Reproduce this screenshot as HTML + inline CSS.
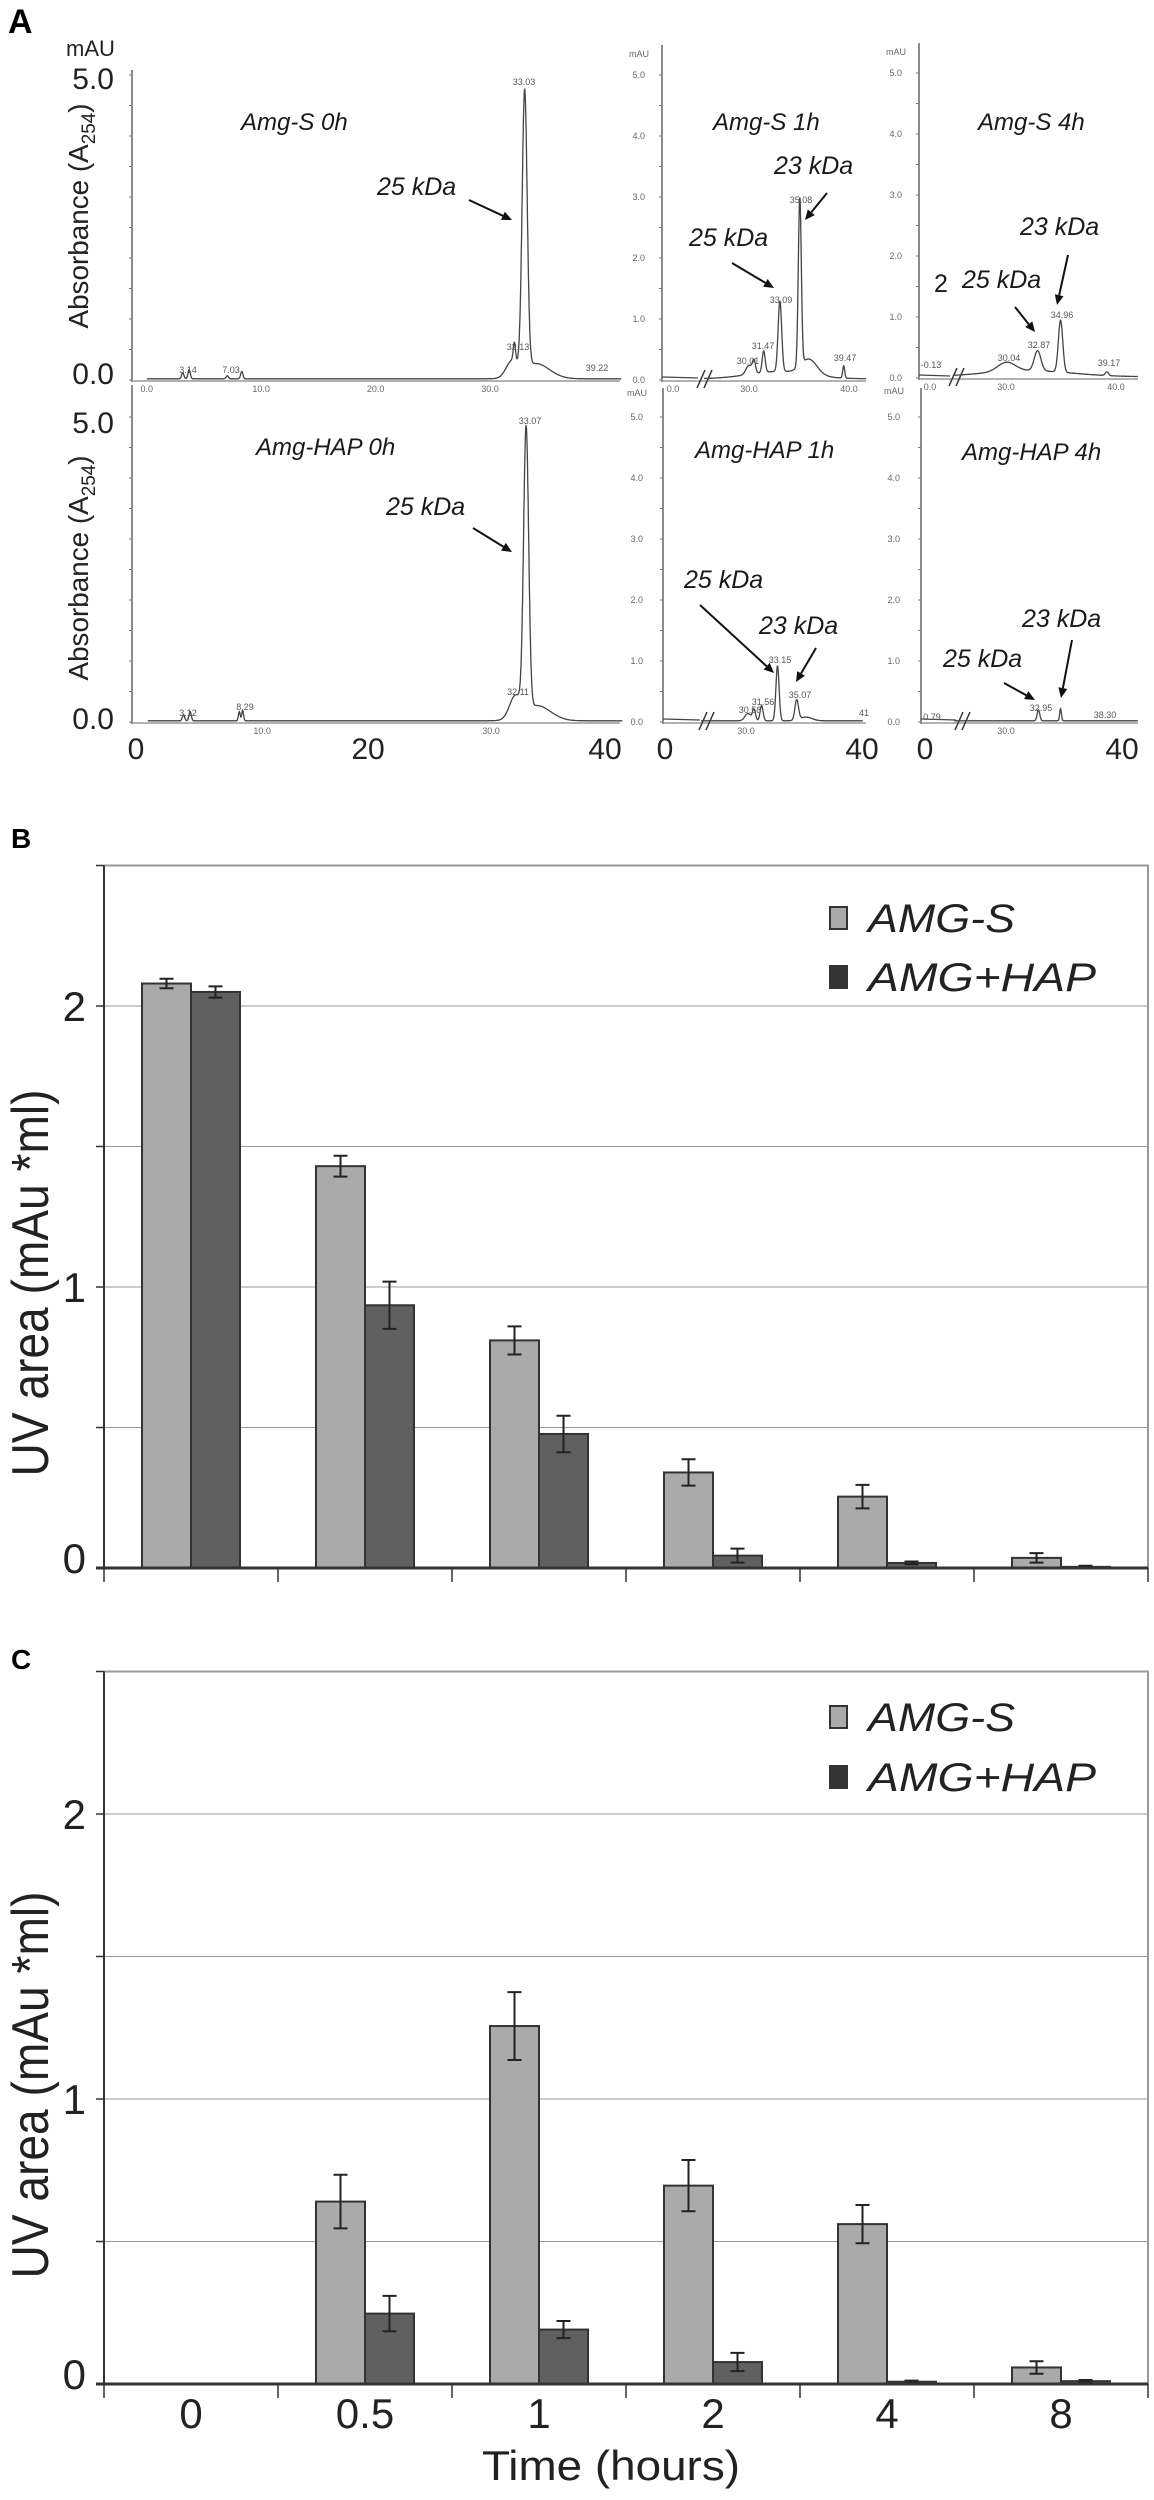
<!DOCTYPE html>
<html><head><meta charset="utf-8"><style>
html,body{margin:0;padding:0;background:#fff;}
svg{display:block;font-family:"Liberation Sans",Arial,sans-serif;}
</style></head><body>
<svg id="fig" width="1154" height="2500" viewBox="0 0 1154 2500" xmlns="http://www.w3.org/2000/svg">
<g id="panelA">
<text x="8" y="33" font-size="34" font-weight="bold">A</text>
<text x="66" y="56" font-size="22" fill="#222">mAU</text>
<text x="114" y="89" font-size="30" text-anchor="end" fill="#222">5.0</text>
<text x="114" y="384" font-size="30" text-anchor="end" fill="#222">0.0</text>
<text x="114" y="433" font-size="30" text-anchor="end" fill="#222">5.0</text>
<text x="114" y="729" font-size="30" text-anchor="end" fill="#222">0.0</text>
<text transform="translate(88,216) rotate(-90)" font-size="28" text-anchor="middle" fill="#222" textLength="225" lengthAdjust="spacingAndGlyphs">Absorbance (A<tspan font-size="19" dy="7">254</tspan><tspan dy="-7">)</tspan></text>
<text transform="translate(88,568) rotate(-90)" font-size="28" text-anchor="middle" fill="#222" textLength="225" lengthAdjust="spacingAndGlyphs">Absorbance (A<tspan font-size="19" dy="7">254</tspan><tspan dy="-7">)</tspan></text>
<g font-size="30" fill="#222" text-anchor="middle">
<text x="136" y="759">0</text>
<text x="368" y="759">20</text>
<text x="605" y="759">40</text>
<text x="665" y="759">0</text>
<text x="862" y="759">40</text>
<text x="925" y="759">0</text>
<text x="1122" y="759">40</text>
</g>
<g font-size="24" font-style="italic" fill="#1a1a1a">
<text x="241" y="130">Amg-S 0h</text>
<text x="377" y="195" font-size="25">25 kDa</text>
<text x="256" y="455">Amg-HAP 0h</text>
<text x="386" y="515" font-size="25">25 kDa</text>
<text x="713" y="130">Amg-S 1h</text>
<text x="774" y="174" font-size="25">23 kDa</text>
<text x="689" y="246" font-size="25">25 kDa</text>
<text x="978" y="130">Amg-S 4h</text>
<text x="1020" y="235" font-size="25">23 kDa</text>
<text x="934" y="292" font-size="25" font-style="normal">2</text>
<text x="962" y="288" font-size="25">25 kDa</text>
<text x="695" y="458">Amg-HAP 1h</text>
<text x="684" y="588" font-size="25">25 kDa</text>
<text x="759" y="634" font-size="25">23 kDa</text>
<text x="962" y="460">Amg-HAP 4h</text>
<text x="1022" y="627" font-size="25">23 kDa</text>
<text x="943" y="667" font-size="25">25 kDa</text>
</g>
</g>
<g id="panelB">
<text x="11" y="848" font-size="28" font-weight="bold">B</text>
</g>
<g id="panelC">
<text x="11" y="1669" font-size="28" font-weight="bold">C</text>
<text x="611" y="2480" font-size="42" text-anchor="middle" fill="#222" textLength="258" lengthAdjust="spacingAndGlyphs">Time (hours)</text>
</g>
</svg>
<script>
// ---------- Bar chart data ----------
const categories = ['0','0.5','1','2','4','8'];
const bAmgS = [2.08, 1.43, 0.81, 0.34, 0.254, 0.036];
const bAmgSErr = [0.017, 0.037, 0.05, 0.047, 0.042, 0.017];
const bAmgHap = [2.05, 0.935, 0.477, 0.044, 0.018, 0.004];
const bAmgHapErr = [0.02, 0.084, 0.065, 0.025, 0.005, 0.004];
const cAmgS = [0, 0.64, 1.256, 0.696, 0.561, 0.058];
const cAmgSErr = [0, 0.094, 0.119, 0.09, 0.067, 0.022];
const cAmgHap = [0, 0.247, 0.191, 0.077, 0.008, 0.01];
const cAmgHapErr = [0, 0.062, 0.03, 0.032, 0.004, 0.004];
const yTickValues = [0, 0.5, 1, 1.5, 2, 2.5];
const yTickLabels = ['0', '', '1', '', '2', ''];
const legendLabels = ['AMG-S', 'AMG+HAP'];

// ---------- Chromatogram data (retention time, height in mAU, width) ----------
const s0hTimes = [3.14, 3.7, 7.03, 8.3, 31.9, 32.13, 33.03, 34.0];
const s0hHeights = [0.1, 0.15, 0.05, 0.12, 0.25, 0.3, 4.55, 0.25];
const s0hWidths = [0.1, 0.1, 0.1, 0.1, 0.5, 0.1, 0.22, 1.2];
const s1hTimes = [30.0, 30.5, 31.47, 33.09, 35.08, 36.0, 39.47, 33.0];
const s1hHeights = [0.15, 0.2, 0.35, 1.15, 2.75, 0.25, 0.2, 0.12];
const s1hWidths = [0.3, 0.15, 0.15, 0.18, 0.15, 0.8, 0.1, 3.0];
const s4hTimes = [30.04, 32.87, 34.96, 39.17, 32.0];
const s4hHeights = [0.15, 0.33, 0.85, 0.06, 0.1];
const s4hWidths = [0.8, 0.3, 0.2, 0.15, 4.0];
const h0hTimes = [3.12, 3.7, 8.0, 8.29, 32.11, 33.07, 34.0];
const h0hHeights = [0.1, 0.15, 0.15, 0.17, 0.35, 4.6, 0.25];
const h0hWidths = [0.1, 0.1, 0.08, 0.08, 0.5, 0.22, 1.2];
const h1hTimes = [30.2, 30.8, 31.56, 33.15, 35.07, 36.0];
const h1hHeights = [0.12, 0.18, 0.25, 0.9, 0.33, 0.06];
const h1hWidths = [0.3, 0.15, 0.15, 0.16, 0.18, 0.6];
const h4hTimes = [32.95, 34.96];
const h4hHeights = [0.18, 0.2];
const h4hWidths = [0.12, 0.08];

const NS = 'http://www.w3.org/2000/svg';
const fig = document.getElementById('fig');
function mk(tag, attrs, parent) {
  const el = document.createElementNS(NS, tag);
  for (const k in attrs) el.setAttribute(k, attrs[k]);
  (parent || fig).appendChild(el);
  return el;
}

// ---------- Chromatogram panels ----------
const panelA = document.getElementById('panelA');
function chromPanel(name, cfg, times, heights, widths, peakLabels) {
  const g = mk('g', {}, panelA);
  
  
  const yv = v => cfg.base - v * cfg.unit;
  const xt = t => cfg.x30 + (t - 30) * cfg.pxPerMin;
  // y axis
  const ax = mk('line', {x1: cfg.axisX, y1: cfg.top, x2: cfg.axisX, y2: cfg.base + 2, stroke: '#666', 'stroke-width': 1.5}, g);
  
  
  for (let v = 0; v <= 5; v += 0.5) {
    const tk = mk('line', {x1: cfg.axisX - 3, y1: yv(v), x2: cfg.axisX, y2: yv(v), stroke: '#777', 'stroke-width': 1}, g);
    
    
    if (cfg.tickLabelX && Number.isInteger(v)) {
      const tl = mk('text', {x: cfg.tickLabelX, y: yv(v) + 3, 'font-size': 9, fill: '#666', 'text-anchor': 'end'}, g);
      tl.textContent = v.toFixed(1);
      
      
    }
  }
  if (cfg.mauY) {
    const m = mk('text', {x: cfg.tickLabelX - 16, y: cfg.mauY, 'font-size': 9, fill: '#666'}, g);
    m.textContent = 'mAU';
    
    
  }
  // x axis
  const xa = mk('line', {x1: cfg.axisX, y1: cfg.base + 1, x2: cfg.right, y2: cfg.base + 1, stroke: '#999', 'stroke-width': 1.5}, g);
  
  
  cfg.xTicks.forEach(tv => {
    const tx = cfg.breakX ? (tv === 0 ? cfg.axisX + 11 : xt(tv)) : xt(tv);
    const tl = mk('text', {x: tx, y: cfg.base + 12, 'font-size': 9, fill: '#666', 'text-anchor': 'middle'}, g);
    tl.textContent = tv.toFixed(1);
    
    
  });
  // trace
  let tStart = cfg.tStart;
  let d = '';
  if (cfg.breakX) {
    d = 'M' + cfg.axisX + ',' + (cfg.base - 3) + ' L' + (cfg.breakX - 8) + ',' + (cfg.base - 2) + ' ';
    const b1 = mk('line', {x1: cfg.breakX - 9, y1: cfg.base + 8, x2: cfg.breakX - 1, y2: cfg.base - 10, stroke: '#333', 'stroke-width': 1.5}, g);
    
    
    const b2 = mk('line', {x1: cfg.breakX - 2, y1: cfg.base + 8, x2: cfg.breakX + 6, y2: cfg.base - 10, stroke: '#333', 'stroke-width': 1.5}, g);
    
    
  }
  let first = true;
  for (let t = tStart; t <= cfg.tEnd; t += 0.02) {
    let v = 0.02;
    for (let i = 0; i < times.length; i++) {
      v += heights[i] * Math.exp(-0.5 * Math.pow((t - times[i]) / widths[i], 2));
    }
    d += (first && !cfg.breakX ? 'M' : (first ? 'M' : 'L')) + xt(t).toFixed(1) + ',' + yv(v).toFixed(1) + ' ';
    first = false;
  }
  const p = mk('path', {d: d, fill: 'none', stroke: '#444', 'stroke-width': 1.3}, g);
  
  
  peakLabels.forEach(pl => {
    const tl = mk('text', {x: pl[1], y: pl[2] + 3, 'font-size': 9, fill: '#555', 'text-anchor': 'middle'}, g);
    tl.textContent = pl[0];
    
    
  });
}

chromPanel('chromatogram-amg-s-0h', {axisX: 132, top: 70, base: 380, unit: 61, x30: 490, pxPerMin: 11.44, right: 620, tStart: 0, tEnd: 41.5, xTicks: [0, 10, 20, 30], tickLabelX: 0},
  s0hTimes, s0hHeights, s0hWidths, [['33.03', 524, 82], ['32.13', 518, 347], ['3.14', 188, 370], ['7.03', 231, 370], ['39.22', 597, 368]]);
chromPanel('chromatogram-amg-hap-0h', {axisX: 132, top: 385, base: 722, unit: 61, x30: 491, pxPerMin: 11.44, right: 620, tStart: 0, tEnd: 41.5, xTicks: [10, 30], tickLabelX: 0},
  h0hTimes, h0hHeights, h0hWidths, [['33.07', 530, 421], ['32.11', 518, 692], ['8.29', 245, 707], ['3.12', 188, 713]]);
chromPanel('chromatogram-amg-s-1h', {axisX: 662, top: 45, base: 380, unit: 61, x30: 749, pxPerMin: 10, right: 866, tStart: 25.5, tEnd: 41.7, xTicks: [0, 30, 40], breakX: 706, tickLabelX: 645, mauY: 57},
  s1hTimes, s1hHeights, s1hWidths, [['35.08', 801, 200], ['33.09', 781, 300], ['31.47', 763, 346], ['30.01', 748, 361], ['39.47', 845, 358]]);
chromPanel('chromatogram-amg-s-4h', {axisX: 919, top: 43, base: 378, unit: 61, x30: 1006, pxPerMin: 11, right: 1138, tStart: 25.3, tEnd: 42, xTicks: [0, 30, 40], breakX: 958, tickLabelX: 902, mauY: 55},
  s4hTimes, s4hHeights, s4hWidths, [['34.96', 1062, 315], ['32.87', 1039, 345], ['30.04', 1009, 358], ['39.17', 1109, 363], ['-0.13', 931, 365]]);
chromPanel('chromatogram-amg-hap-1h', {axisX: 663, top: 388, base: 722, unit: 61, x30: 746, pxPerMin: 10, right: 866, tStart: 25.5, tEnd: 41.7, xTicks: [30], breakX: 708, tickLabelX: 643, mauY: 396},
  h1hTimes, h1hHeights, h1hWidths, [['33.15', 780, 660], ['35.07', 800, 695], ['31.56', 763, 702], ['30.58', 750, 710], ['41', 864, 713]]);
chromPanel('chromatogram-amg-hap-4h', {axisX: 921, top: 388, base: 722, unit: 61, x30: 1006, pxPerMin: 11, right: 1138, tStart: 25.3, tEnd: 42, xTicks: [30], breakX: 964, tickLabelX: 900, mauY: 394},
  h4hTimes, h4hHeights, h4hWidths, [['32.95', 1041, 708], ['38.30', 1105, 715], ['0.79', 932, 717]]);

// arrows
const arrowList = [
  ['arrow-25kda-s0h', 469, 200, 512, 220], ['arrow-25kda-h0h', 473, 528, 512, 552],
  ['arrow-25kda-s1h', 732, 263, 774, 288], ['arrow-23kda-s1h', 827, 193, 805, 220],
  ['arrow-25kda-s4h', 1015, 307, 1035, 332], ['arrow-23kda-s4h', 1068, 255, 1057, 305],
  ['arrow-25kda-h1h', 700, 605, 774, 673], ['arrow-23kda-h1h', 816, 648, 796, 682],
  ['arrow-23kda-h4h', 1072, 640, 1061, 698], ['arrow-25kda-h4h', 1004, 683, 1035, 700]
];
arrowList.forEach(a => {
  const g = mk('g', {}, panelA);
  
  
  const ang = Math.atan2(a[4] - a[2], a[3] - a[1]);
  const hl = 10, hw = 4.5;
  const bx = a[3] - hl * Math.cos(ang), by = a[4] - hl * Math.sin(ang);
  mk('line', {x1: a[1], y1: a[2], x2: bx, y2: by, stroke: '#111', 'stroke-width': 2}, g);
  const pts = [a[3], a[4], bx - hw * Math.sin(ang), by + hw * Math.cos(ang), bx + hw * Math.sin(ang), by - hw * Math.cos(ang)];
  mk('polygon', {points: pts.map(v => v.toFixed(1)).join(' '), fill: '#111'}, g);
});

// ---------- Bar charts ----------
function barChart(gid, cfg, lightVals, lightErr, darkVals, darkErr) {
  const g = document.getElementById(gid);
  const left = 104, right = 1148, catW = 174, barW = 49;
  const y = v => cfg.base - v * cfg.unit;
  const xc = i => left + catW * (i + 0.5);
  const top = y(2.5);
  // grid
  yTickValues.forEach((v, i) => {
    if (v > 0 && v < 2.5) {
      const gl = mk('line', {x1: left, y1: y(v), x2: right, y2: y(v), stroke: '#999', 'stroke-width': 1}, g);
      
      
    }
    const tk = mk('line', {x1: left - 8, y1: y(v), x2: left, y2: y(v), stroke: '#333', 'stroke-width': 1.5}, g);
    
    
    if (yTickLabels[i]) {
      const tl = mk('text', {x: 86, y: y(v) + 15 - (v === 0 ? 10 : 0), 'font-size': 42, fill: '#222', 'text-anchor': 'end'}, g);
      tl.textContent = yTickLabels[i];
      
      
    }
  });
  const frame = mk('polyline', {points: left + ',' + top + ' ' + right + ',' + top + ' ' + right + ',' + cfg.base, fill: 'none', stroke: '#999', 'stroke-width': 2}, g);
  
  
  // bars
  categories.forEach((c, i) => {
    [[lightVals, lightErr, '#aaaaaa', -barW, 'bar-amg-s-'], [darkVals, darkErr, '#606060', 0, 'bar-amg-hap-']].forEach(s => {
      const v = s[0][i];
      if (v <= 0) return;
      const bx = xc(i) + s[3];
      const r = mk('rect', {x: bx, y: y(v), width: barW, height: cfg.base - y(v), fill: s[2], stroke: '#333', 'stroke-width': 2}, g);
      
      
      const e = s[1][i];
      const ex = bx + barW / 2;
      const eg = mk('path', {d: 'M' + ex + ',' + y(v + e) + ' V' + y(v - e) + ' M' + (ex - 7) + ',' + y(v + e) + ' h14 M' + (ex - 7) + ',' + y(v - e) + ' h14', stroke: '#222', 'stroke-width': 2, fill: 'none'}, g);
      
      
    });
  });
  // axes
  const ya = mk('line', {x1: left, y1: top, x2: left, y2: cfg.base, stroke: '#333', 'stroke-width': 2}, g);
  
  
  const xa = mk('line', {x1: left - 8, y1: cfg.base, x2: right, y2: cfg.base, stroke: '#333', 'stroke-width': 3}, g);
  
  
  for (let i = 0; i <= categories.length; i++) {
    const tk = mk('line', {x1: left + catW * i, y1: cfg.base, x2: left + catW * i, y2: cfg.base + 14, stroke: '#333', 'stroke-width': 1.5}, g);
    
    
  }
  if (cfg.xLabels) {
    categories.forEach((c, i) => {
      const tl = mk('text', {x: xc(i), y: cfg.base + 44, 'font-size': 42, fill: '#222', 'text-anchor': 'middle'}, g);
      tl.textContent = c;
      
      
    });
  }
  // y title
  const yt = mk('text', {transform: 'translate(48,' + cfg.titleY + ') rotate(-90)', 'font-size': 52, fill: '#222', 'text-anchor': 'middle', textLength: 387, lengthAdjust: 'spacingAndGlyphs'}, g);
  yt.textContent = 'UV area (mAu *ml)';
  
  
  // legend
  [['#aaaaaa', cfg.legY[0], 147], ['#333333', cfg.legY[1], 228]].forEach((l, i) => {
    const sq = mk('rect', {x: 830, y: l[1] - 11, width: 17, height: 22, fill: l[0], stroke: '#333', 'stroke-width': 2}, g);
    
    
    const lt = mk('text', {x: 868, y: l[1] + 14, 'font-size': 40, 'font-style': 'italic', fill: '#222', textLength: l[2], lengthAdjust: 'spacingAndGlyphs'}, g);
    lt.textContent = legendLabels[i];
    
    
  });
}
barChart('panelB', {base: 1568, unit: 281, titleY: 1283, legY: [918, 977], xLabels: false}, bAmgS, bAmgSErr, bAmgHap, bAmgHapErr);
barChart('panelC', {base: 2384, unit: 285, titleY: 2085, legY: [1717, 1777], xLabels: true}, cAmgS, cAmgSErr, cAmgHap, cAmgHapErr);
</script>
</body></html>
